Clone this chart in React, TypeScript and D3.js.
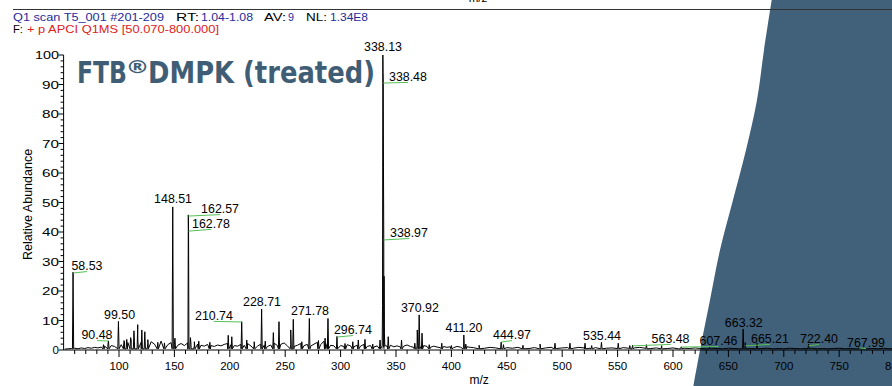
import React from 'react';
import * as d3 from 'd3';

const W = 892;
const H = 386;

// Spectrum peaks: [m/z, relative abundance %]
const peaks: [number, number][] = [
  [58.53, 26.4], [86.0, 1.8], [90.48, 3.1], [99.5, 9.7], [104.5, 3.2], [107.0, 3.6],
  [110.5, 4.2], [113.5, 6.5], [116.9, 8.6], [120.6, 6.8], [123.3, 6.2], [126.0, 3.5],
  [135.0, 2.6], [141.0, 2.4], [148.51, 48.5], [150.5, 4.0], [162.57, 45.8], [162.78, 40.3],
  [164.5, 4.2], [168.0, 2.8], [172.0, 3.0], [182.0, 2.6], [198.6, 5.0], [201.8, 4.5],
  [210.74, 9.6], [215.3, 3.4], [222.0, 2.8], [228.71, 13.9], [232.0, 3.0], [239.3, 5.9],
  [244.4, 9.6], [255.0, 6.8], [257.3, 10.4], [265.0, 2.8], [271.78, 10.7], [280.0, 3.2],
  [286.0, 4.0], [288.6, 10.7], [296.74, 4.6], [304.0, 2.2], [311.0, 2.8], [316.0, 3.4],
  [322.0, 3.6], [329.0, 2.0], [335.6, 3.4], [343.0, 4.5], [355.0, 3.4], [367.0, 2.3],
  [369.2, 6.8], [370.92, 11.9], [373.5, 5.7], [380.0, 1.8], [391.3, 2.3], [400.0, 1.5],
  [411.2, 5.1], [413.0, 2.0], [425.0, 1.6], [444.97, 2.7], [447.0, 1.8], [464.6, 1.6],
  [480.0, 2.0], [493.5, 2.3], [507.0, 2.3], [520.6, 2.3], [526.6, 1.5], [535.44, 2.6],
  [550.6, 2.3], [561.0, 1.5], [563.48, 1.6], [576.0, 1.8], [589.8, 1.5], [607.46, 1.1],
  [633.0, 1.0], [663.32, 7.1], [665.21, 2.5], [675.8, 2.3], [722.4, 2.0], [767.99, 0.9],
];

// Base peak profile (338 cluster): [m/z, abundance]
const basePeak: [number, number][] = [
  [337.5, 1.5], [337.85, 15], [338.13, 100], [338.3, 94], [338.48, 90.5], [338.7, 62],
  [338.97, 37.6], [339.2, 25], [339.5, 6], [339.9, 1.5],
];

// Baseline noise, region 1: starts at m/z 51, one value every 3 m/z
const noiseA: number[] = [
  0.3, 0.4, 0.5, 0.6, 0.4, 0.7, 0.5, 0.8, 0.6, 0.9, 0.7, 1.0, 1.3, 1.8,
  1.5, 1.2, 2.2, 1.8, 3.0, 2.5, 3.4, 2.8, 3.6, 2.6, 3.0, 2.2, 2.8, 2.0, 2.4, 3.0, 2.2, 1.8, 2.5,
  2.0, 1.6, 2.2, 1.5, 2.4, 1.8, 1.4, 2.0, 1.6, 1.3, 1.9, 1.5, 1.2, 1.7, 1.4, 1.9, 2.2,
  1.8, 1.5, 1.3, 1.9, 1.6, 2.2, 1.4, 1.8, 1.3, 2.0, 1.6, 1.2, 1.7, 2.3, 1.5, 1.9, 2.4, 1.4,
  1.8, 1.2, 1.6, 2.2, 1.5, 1.9, 1.3, 2.0, 2.6, 1.8, 3.0, 2.2, 1.6, 1.4, 2.0,
  1.5, 1.2, 1.8, 1.4, 1.1, 1.6, 1.3, 1.9, 1.2, 1.5, 1.0, 1.4, 1.2, 0.9, 1.3, 1.6, 1.1, 1.4,
  1.0, 1.3, 1.7, 1.2, 0.9, 1.4, 1.1, 1.5, 1.2, 0.9, 1.3, 1.0, 0.8, 1.2, 0.9, 1.1, 0.8, 1.2,
  1.0, 0.7, 1.1, 0.9, 0.8,
];
const noiseAStart = 51;
const noiseAStep = 3;

// Baseline noise, region 2: starts at m/z 425, one value every 5 m/z
const noiseB: number[] = [
  0.8, 0.6, 0.9, 0.7, 0.5, 0.8, 0.6, 0.9, 0.7, 0.5,
  0.8, 0.6, 0.7, 0.9, 0.5, 0.7, 0.8, 0.6, 0.9, 0.7,
  0.6, 0.8, 0.9, 0.6, 0.7, 0.5, 0.8, 0.6, 0.7, 0.9,
  0.6, 0.5, 0.7, 0.6, 0.5, 0.7, 0.4, 0.6, 0.5, 0.7,
  0.5, 0.4, 0.6, 0.5, 0.4, 0.6, 0.5, 0.4, 0.6, 0.5,
  0.4, 0.5, 0.6, 0.4, 0.5, 0.4, 0.6, 0.5, 0.4, 0.5,
  0.6, 0.4, 0.5, 0.4, 0.5, 0.6, 0.4, 0.5, 0.4, 0.5,
  0.4, 0.5, 0.4, 0.6, 0.4, 0.5,
];
const noiseBStart = 425;
const noiseBStep = 5;

// Peak annotations
const labelText = ['338.13', '338.48', '338.97', '148.51', '162.57', '162.78', '58.53', '90.48',
  '99.50', '210.74', '228.71', '271.78', '296.74', '370.92', '411.20', '444.97', '535.44',
  '563.48', '607.46', '663.32', '665.21', '722.40', '767.99'];
const labelPeakMz = [338.13, 338.48, 338.97, 148.51, 162.57, 162.78, 58.53, 90.48,
  99.5, 210.74, 228.71, 271.78, 296.74, 370.92, 411.2, 444.97, 535.44,
  563.48, 607.46, 663.32, 665.21, 722.4, 767.99];
const labelPeakAbund = [100, 90.5, 37.3, 48.5, 45.4, 40.3, 26.1, 3.05,
  9.7, 9.5, 13.9, 10.7, 4.4, 11.9, 5.1, 2.7, 2.6,
  1.4, 1.0, 7.1, 1.4, 1.4, 0.7];
const labelMz = [338.3, 360.8, 361.7, 148.8, 191.2, 183.0, 71.1, 80.1,
  100.5, 185.7, 229.1, 272.4, 311.1, 371.6, 411.4, 454.7, 535.9,
  597.8, 641.1, 663.9, 687.5, 731.8, 774.2];
const labelAbund = [101.4, 91.2, 38.3, 49.8, 46.4, 41.4, 27.1, 3.7,
  10.5, 10.2, 14.9, 11.9, 5.4, 12.9, 6.1, 3.7, 3.4,
  2.4, 1.7, 7.8, 2.4, 2.4, 1.0];
const labelLeader = [false, true, true, false, true, true, true, true,
  false, true, false, false, true, false, false, true, false,
  true, true, false, true, true, true];

const xMajorTicks = [100, 150, 200, 250, 300, 350, 400, 450, 500, 550, 600, 650, 700, 750, 800];
const yMajorTicks = [0, 10, 20, 30, 40, 50, 60, 70, 80, 90, 100];

// Header segments: text, colour key, line
const headerText = ['Q1 scan T5_001 #201-209', 'RT:', '1.04-1.08', 'AV:', '9', 'NL:', '1.34E8', 'F:', '+ p APCI Q1MS [50.070-800.000]'];
const headerColor = ['blue', 'black', 'blue', 'black', 'blue', 'black', 'blue', 'black', 'red'];
const headerX = [13, 176, 201, 264, 288, 306, 330, 13, 27];
const headerW = [151, 23, 52, 22, 6, 21, 38, 10, 192];
const headerLine = [0, 0, 0, 0, 0, 0, 0, 1, 1];

const FONT = '"Liberation Sans", Arial, sans-serif';
const COLORS: Record<string, string> = { blue: '#1e2c9c', red: '#dd2222', black: '#000' };

export default function App() {
  const x = d3.scaleLinear().domain([50, 800]).range([63.6, 894.6]);
  const y = d3.scaleLinear().domain([0, 100]).range([350, 55]);

  // Build spectrum profile
  const pts: [number, number][] = [];
  noiseA.forEach((v, i) => pts.push([noiseAStart + i * noiseAStep, v]));
  noiseB.forEach((v, i) => pts.push([noiseBStart + i * noiseBStep, v]));
  peaks.forEach(([m, h]) => {
    pts.push([m - 0.55, 0.4]);
    pts.push([m, h]);
    pts.push([m + 0.55, 0.4]);
  });
  basePeak.forEach((p) => pts.push(p));
  pts.sort((a, b) => a[0] - b[0]);

  const line = d3.line<[number, number]>().x((d) => x(d[0])).y((d) => y(d[1]));
  const area = d3
    .area<[number, number]>()
    .x((d) => x(d[0]))
    .y0(y(0))
    .y1((d) => y(d[1]));

  const xMinor = d3.range(60, 801, 10).filter((v) => v % 50 !== 0);
  const yMinor = d3.range(0, 101, 2).filter((v) => v % 10 !== 0);

  const shapePts: [number, number][] = [
    [772, -2], [764, 50], [757, 100], [746, 150], [733, 200], [720, 250], [710, 300], [700, 350], [693, 388],
  ];
  const edge = d3.line().curve(d3.curveCatmullRom)(shapePts) || '';
  const shapePath = `${edge} L ${W} 388 L ${W} -2 Z`;

  return (
    <svg
      width={W}
      height={H}
      viewBox={`0 0 ${W} ${H}`}
      style={{ position: 'absolute', left: 0, top: 0, background: '#fff' }}
      fontFamily={FONT}
    >
      <rect x={0} y={0} width={W} height={H} fill="#fff" />
      <path d={shapePath} fill="#41607a" />

      {/* top header */}
      <text x={478} y={2} fontSize={11.5} textAnchor="middle" fill="#000">m/z</text>
      <line x1={13} x2={W} y1={9.5} y2={9.5} stroke="#333" strokeWidth={1} />
      <g fontSize={11}>
        {headerText.map((t, i) => (
          <text
            key={'h' + i}
            x={headerX[i]}
            y={headerLine[i] === 0 ? 21 : 33}
            fill={COLORS[headerColor[i]]}
            textLength={headerW[i]}
            lengthAdjust="spacingAndGlyphs"
          >
            {t}
          </text>
        ))}
      </g>

      {/* y axis */}
      <line x1={x(50)} x2={x(50)} y1={y(100)} y2={y(0)} stroke="#000" />
      {yMinor.map((v) => (
        <line key={'ym' + v} x1={x(50) - 3} x2={x(50)} y1={y(v)} y2={y(v)} stroke="#000" />
      ))}
      {yMajorTicks.map((v) => (
        <g key={'yM' + v}>
          <line x1={x(50) - 5} x2={x(50)} y1={y(v)} y2={y(v)} stroke="#000" />
          <text
            x={59}
            y={y(v) + 4}
            fontSize={11.5}
            textAnchor="end"
            {...(v >= 10 ? { textLength: v >= 100 ? 24 : 17, lengthAdjust: 'spacingAndGlyphs' } : {})}
          >
            {v}
          </text>
        </g>
      ))}
      <text
        transform={`translate(32, ${(y(0) + y(100)) / 2 + 2}) rotate(-90)`}
        fontSize={12.5}
        textAnchor="middle"
      >
        Relative Abundance
      </text>

      {/* x axis */}
      <line x1={x(50)} x2={W} y1={y(0)} y2={y(0)} stroke="#000" />
      {xMinor.map((v) => (
        <line key={'xm' + v} x1={x(v)} x2={x(v)} y1={y(0)} y2={y(0) + 4} stroke="#000" />
      ))}
      {xMajorTicks.map((v) => (
        <g key={'xM' + v}>
          <line x1={x(v)} x2={x(v)} y1={y(0)} y2={y(0) + 7} stroke="#000" />
          <text x={x(v)} y={370} fontSize={11.5} textAnchor="middle">{v}</text>
        </g>
      ))}
      <text x={(x(50) + x(800)) / 2} y={384} fontSize={12} textAnchor="middle">m/z</text>

      {/* spectrum */}
      <path d={area(basePeak) || ''} fill="#8c8c8c" />
      <path d={line(pts) || ''} fill="none" stroke="#000" strokeWidth={1} strokeLinejoin="round" />

      {/* annotations */}
      {labelText.map((t, i) => {
        const lx = x(labelMz[i]);
        const ly = y(labelAbund[i]);
        return (
          <g key={'lab' + i}>
            {labelLeader[i] && (
              <line
                x1={x(labelPeakMz[i])}
                y1={y(labelPeakAbund[i])}
                x2={lx}
                y2={ly + 1.5}
                stroke="#55c055"
                strokeWidth={1}
              />
            )}
            <text x={lx} y={ly} fontSize={12.4} textAnchor="middle" fill="#000">{t}</text>
          </g>
        );
      })}

      {/* title */}
      <g fill="#3f5e75" fontFamily='"DejaVu Sans", Verdana, sans-serif' fontWeight="bold">
        <text x={77} y={83} fontSize={30} textLength={50} lengthAdjust="spacingAndGlyphs">FTB</text>
        <text x={125.5} y={73} fontSize={17} textLength={24} lengthAdjust="spacingAndGlyphs">®</text>
        <text x={148} y={83} fontSize={30} textLength={227} lengthAdjust="spacingAndGlyphs">DMPK (treated)</text>
      </g>
    </svg>
  );
}
